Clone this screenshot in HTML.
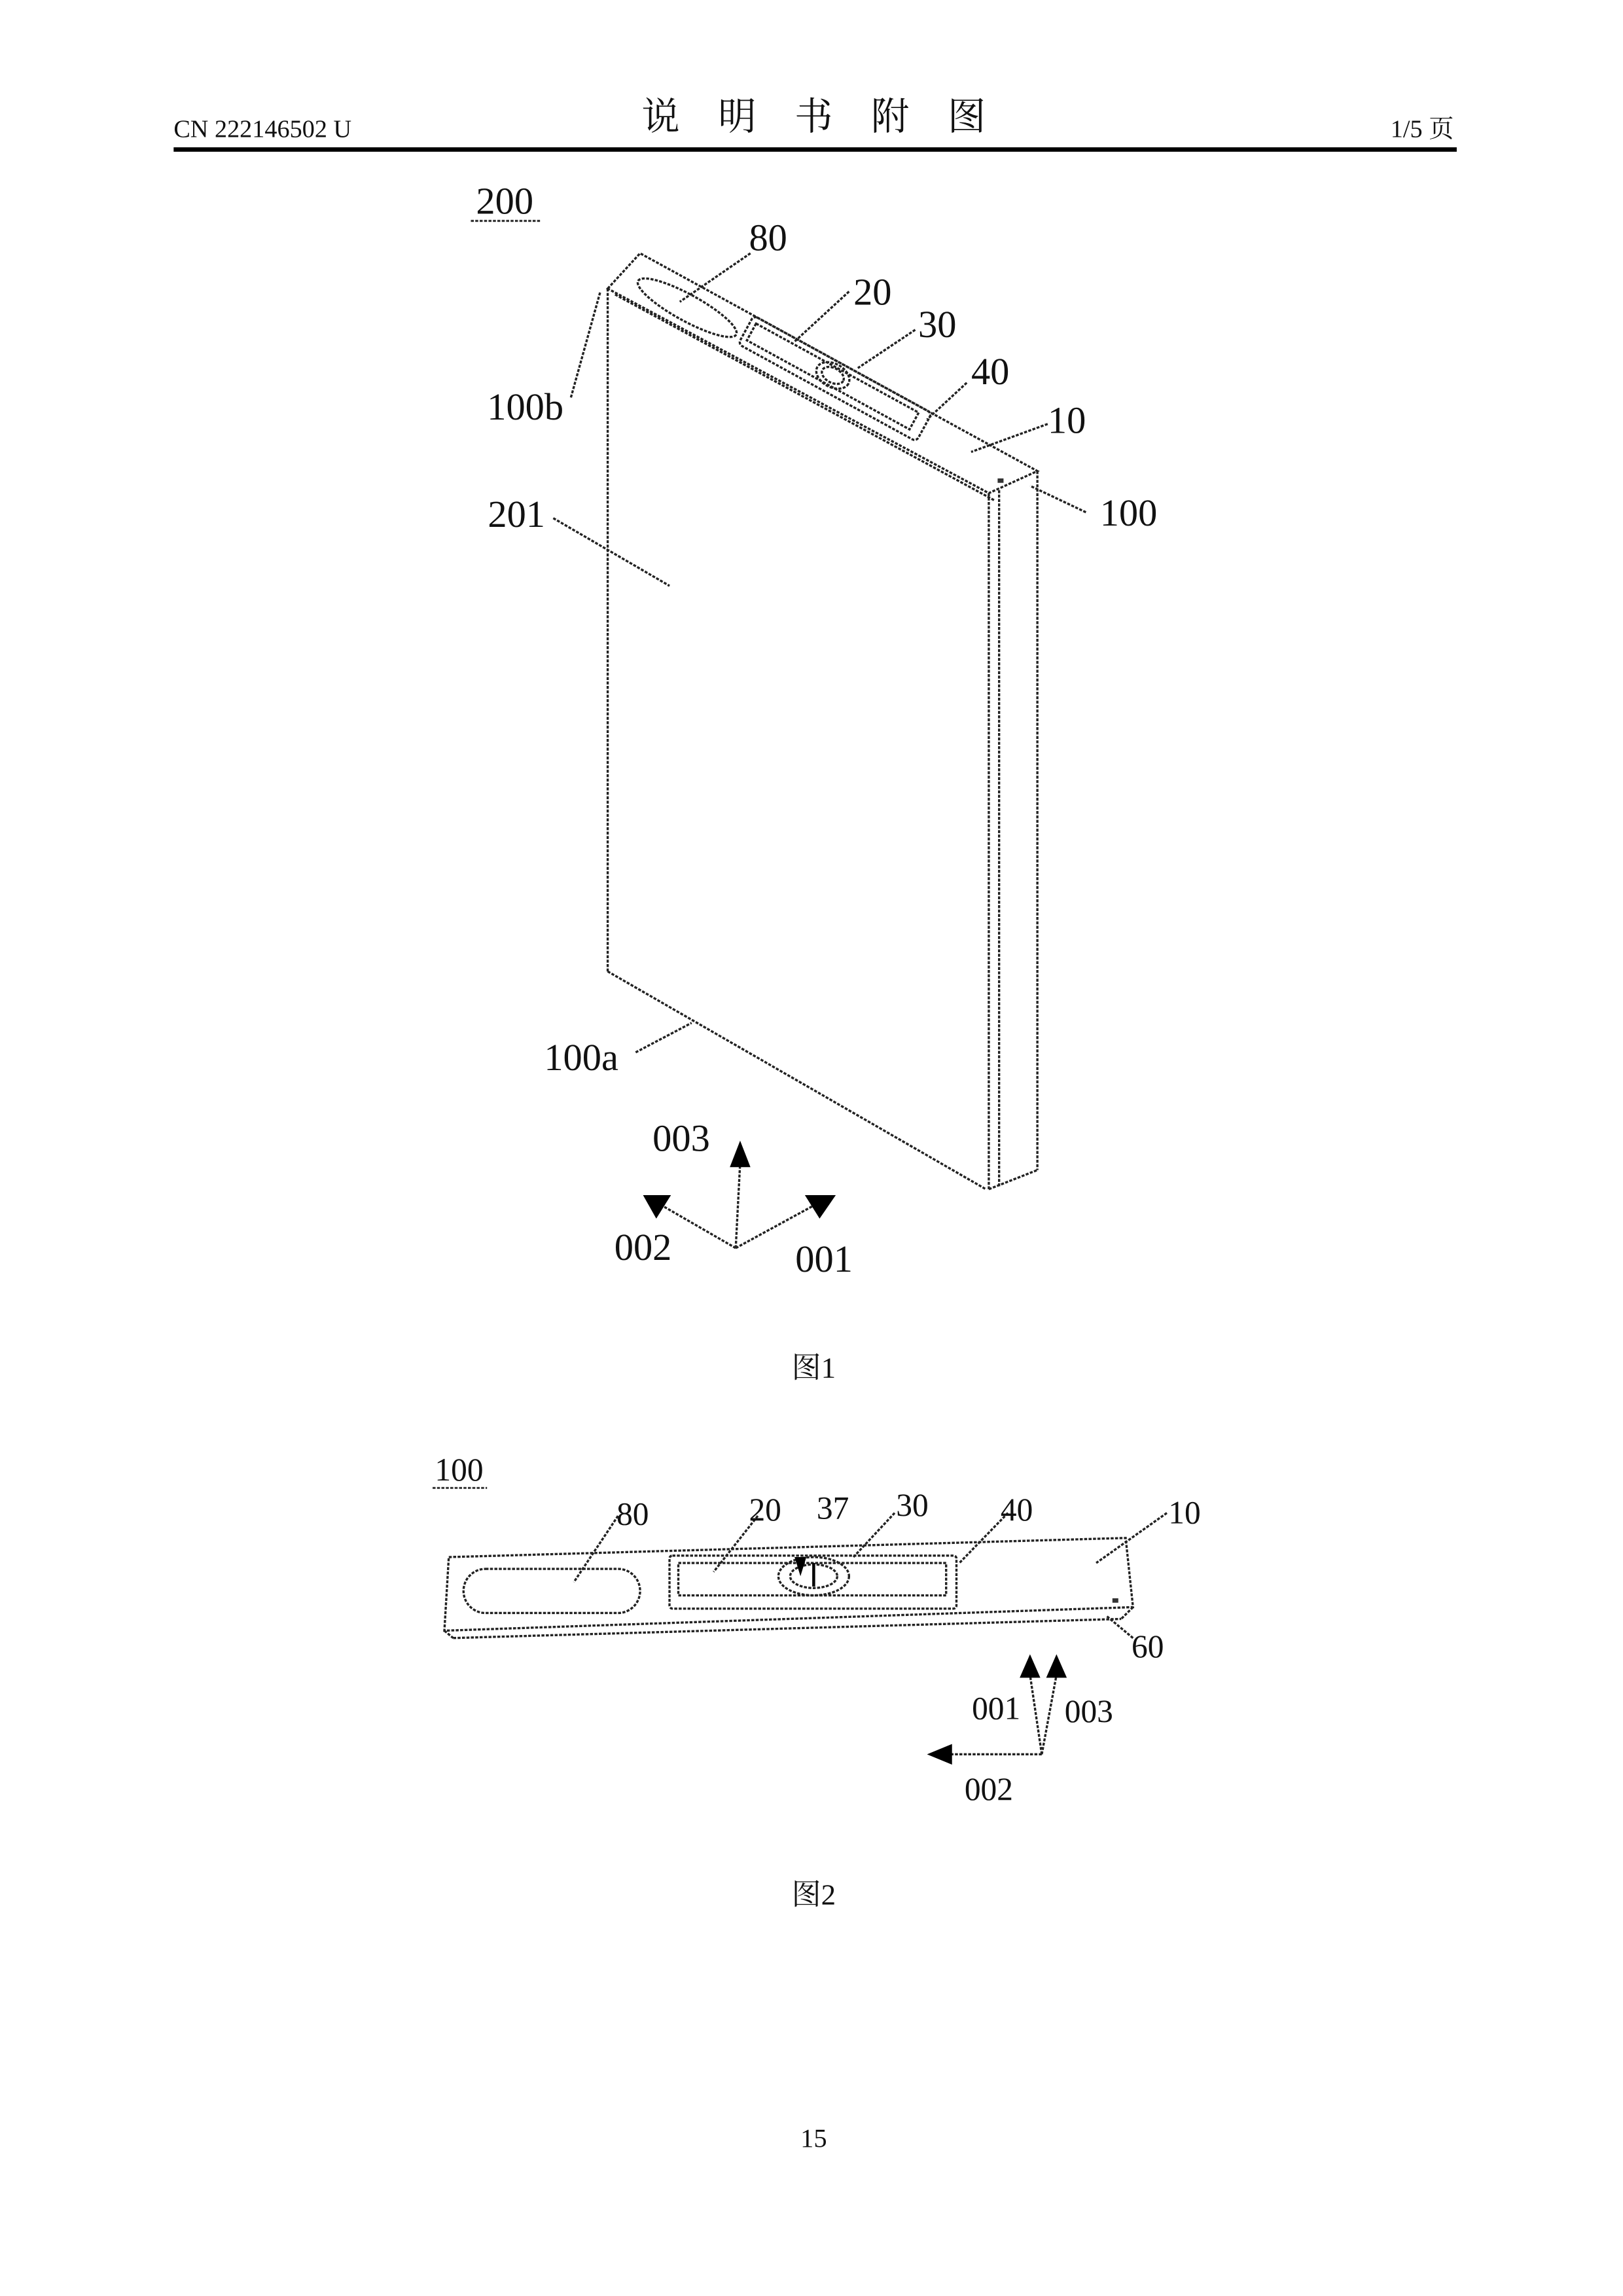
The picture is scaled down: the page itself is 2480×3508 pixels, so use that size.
<!DOCTYPE html>
<html><head><meta charset="utf-8"><style>
html,body{margin:0;padding:0;background:#fff}
svg{display:block}
text{font-family:"Liberation Serif","Noto Serif CJK SC",serif;fill:#111}
</style></head><body>
<svg width="2480" height="3508" viewBox="0 0 1103 1560" xmlns="http://www.w3.org/2000/svg">
<text x="118" y="93" font-size="17">CN 222146502 U</text>
<text x="553" y="88" font-size="26" text-anchor="middle" font-family="Noto Serif CJK SC, serif">说　明　书　附　图</text>
<text x="988" y="93" font-size="17" text-anchor="end" font-family="Liberation Serif, Noto Serif CJK SC, serif">1/5 页</text>
<rect x="118" y="100" width="872" height="3" fill="#000"/>

<g fill="none" stroke="#222" stroke-width="1.5" stroke-dasharray="2 1">
<polygon points="413,196 435,172 705,320 672,335"/>
<line x1="413" y1="196" x2="413" y2="660"/>
<line x1="413" y1="660" x2="670" y2="808"/>
<line x1="672" y1="335" x2="672" y2="808"/>
<line x1="679" y1="333" x2="679" y2="806"/>
<line x1="705" y1="320" x2="705" y2="795"/>
<line x1="672" y1="808" x2="705" y2="795"/>
<line x1="418" y1="200" x2="676" y2="340"/>
<ellipse cx="467" cy="209" rx="38" ry="9" transform="rotate(28.7 467 209)"/>
<g transform="rotate(28.7 567 258)">
<rect x="498" y="246" width="138" height="22" rx="3"/>
<rect x="502" y="250" width="126" height="13"/>
</g>
<ellipse cx="566" cy="255" rx="12" ry="8" transform="rotate(28 566 255)"/>
<ellipse cx="566" cy="255" rx="8" ry="5" transform="rotate(28 566 255)"/>
<line x1="510" y1="172" x2="462" y2="205"/>
<line x1="577" y1="198" x2="540" y2="232"/>
<line x1="622" y1="224" x2="583" y2="250"/>
<line x1="657" y1="260" x2="630" y2="285"/>
<line x1="712" y1="288" x2="660" y2="307"/>
<line x1="738" y1="348" x2="700" y2="330"/>
<line x1="388" y1="270" x2="408" y2="198"/>
<line x1="376" y1="352" x2="455" y2="398"/>
<line x1="432" y1="715" x2="470" y2="695"/>
<line x1="500" y1="848" x2="503" y2="790"/>
<line x1="500" y1="848" x2="448" y2="818"/>
<line x1="500" y1="848" x2="555" y2="818"/>

<polygon points="305,1058 765,1045 770,1092 302,1108"/>
<line x1="308" y1="1113" x2="762" y2="1100"/>
<line x1="302" y1="1108" x2="308" y2="1113"/>
<line x1="770" y1="1092" x2="762" y2="1100"/>
<rect x="315" y="1066" width="120" height="30" rx="15"/>
<rect x="455" y="1057" width="195" height="36" rx="2"/>
<rect x="461" y="1062" width="182" height="22"/>
<ellipse cx="553" cy="1071" rx="24" ry="13"/>
<ellipse cx="553" cy="1071" rx="16" ry="8"/>
<line x1="420" y1="1030" x2="390" y2="1075"/>
<line x1="515" y1="1030" x2="485" y2="1068"/>
<line x1="608" y1="1028" x2="580" y2="1058"/>
<line x1="685" y1="1028" x2="652" y2="1062"/>
<line x1="793" y1="1028" x2="745" y2="1062"/>
<line x1="770" y1="1113" x2="752" y2="1098"/>
<line x1="708" y1="1192" x2="645" y2="1192"/>
<line x1="708" y1="1192" x2="700" y2="1138"/>
<line x1="708" y1="1192" x2="718" y2="1138"/>
</g>
<line x1="553" y1="1062" x2="553" y2="1078" stroke="#000" stroke-width="2"/>
<rect x="756" y="1086" width="4" height="3" fill="#333"/>
<rect x="678" y="325" width="4" height="3" fill="#333"/>

<g fill="#000">
<polygon points="503,775 496,793 510,793"/>
<polygon points="437,812 456,812 446,828"/>
<polygon points="547,812 568,812 557,828"/>
<polygon points="540,1058 548,1058 544,1071"/>
<polygon points="630,1192 647,1185 647,1199"/>
<polygon points="700,1124 693,1140 707,1140"/>
<polygon points="718,1124 711,1140 725,1140"/>
</g>

<g font-size="26">
<text x="343" y="145" text-anchor="middle">200</text>
<text x="522" y="170" text-anchor="middle">80</text>
<text x="593" y="207" text-anchor="middle">20</text>
<text x="637" y="229" text-anchor="middle">30</text>
<text x="673" y="261" text-anchor="middle">40</text>
<text x="725" y="294" text-anchor="middle">10</text>
<text x="767" y="357" text-anchor="middle">100</text>
<text x="357" y="285" text-anchor="middle">100b</text>
<text x="351" y="358" text-anchor="middle">201</text>
<text x="395" y="727" text-anchor="middle">100a</text>
<text x="463" y="782" text-anchor="middle">003</text>
<text x="437" y="856" text-anchor="middle">002</text>
<text x="560" y="864" text-anchor="middle">001</text>
</g>
<line x1="320" y1="150" x2="367" y2="150" stroke="#333" stroke-width="1.5" stroke-dasharray="2 1"/>
<text x="553" y="936" font-size="20" text-anchor="middle">图1</text>

<g font-size="22">
<text x="312" y="1006" text-anchor="middle">100</text>
<text x="430" y="1036" text-anchor="middle">80</text>
<text x="520" y="1033" text-anchor="middle">20</text>
<text x="566" y="1032" text-anchor="middle">37</text>
<text x="620" y="1030" text-anchor="middle">30</text>
<text x="691" y="1033" text-anchor="middle">40</text>
<text x="805" y="1035" text-anchor="middle">10</text>
<text x="780" y="1126" text-anchor="middle">60</text>
<text x="677" y="1168" text-anchor="middle">001</text>
<text x="740" y="1170" text-anchor="middle">003</text>
<text x="672" y="1223" text-anchor="middle">002</text>
</g>
<line x1="294" y1="1011" x2="331" y2="1011" stroke="#333" stroke-width="1.3" stroke-dasharray="2 1"/>
<text x="553" y="1294" font-size="20" text-anchor="middle">图2</text>
<text x="553" y="1459" font-size="18" text-anchor="middle">15</text>
</svg>
</body></html>
